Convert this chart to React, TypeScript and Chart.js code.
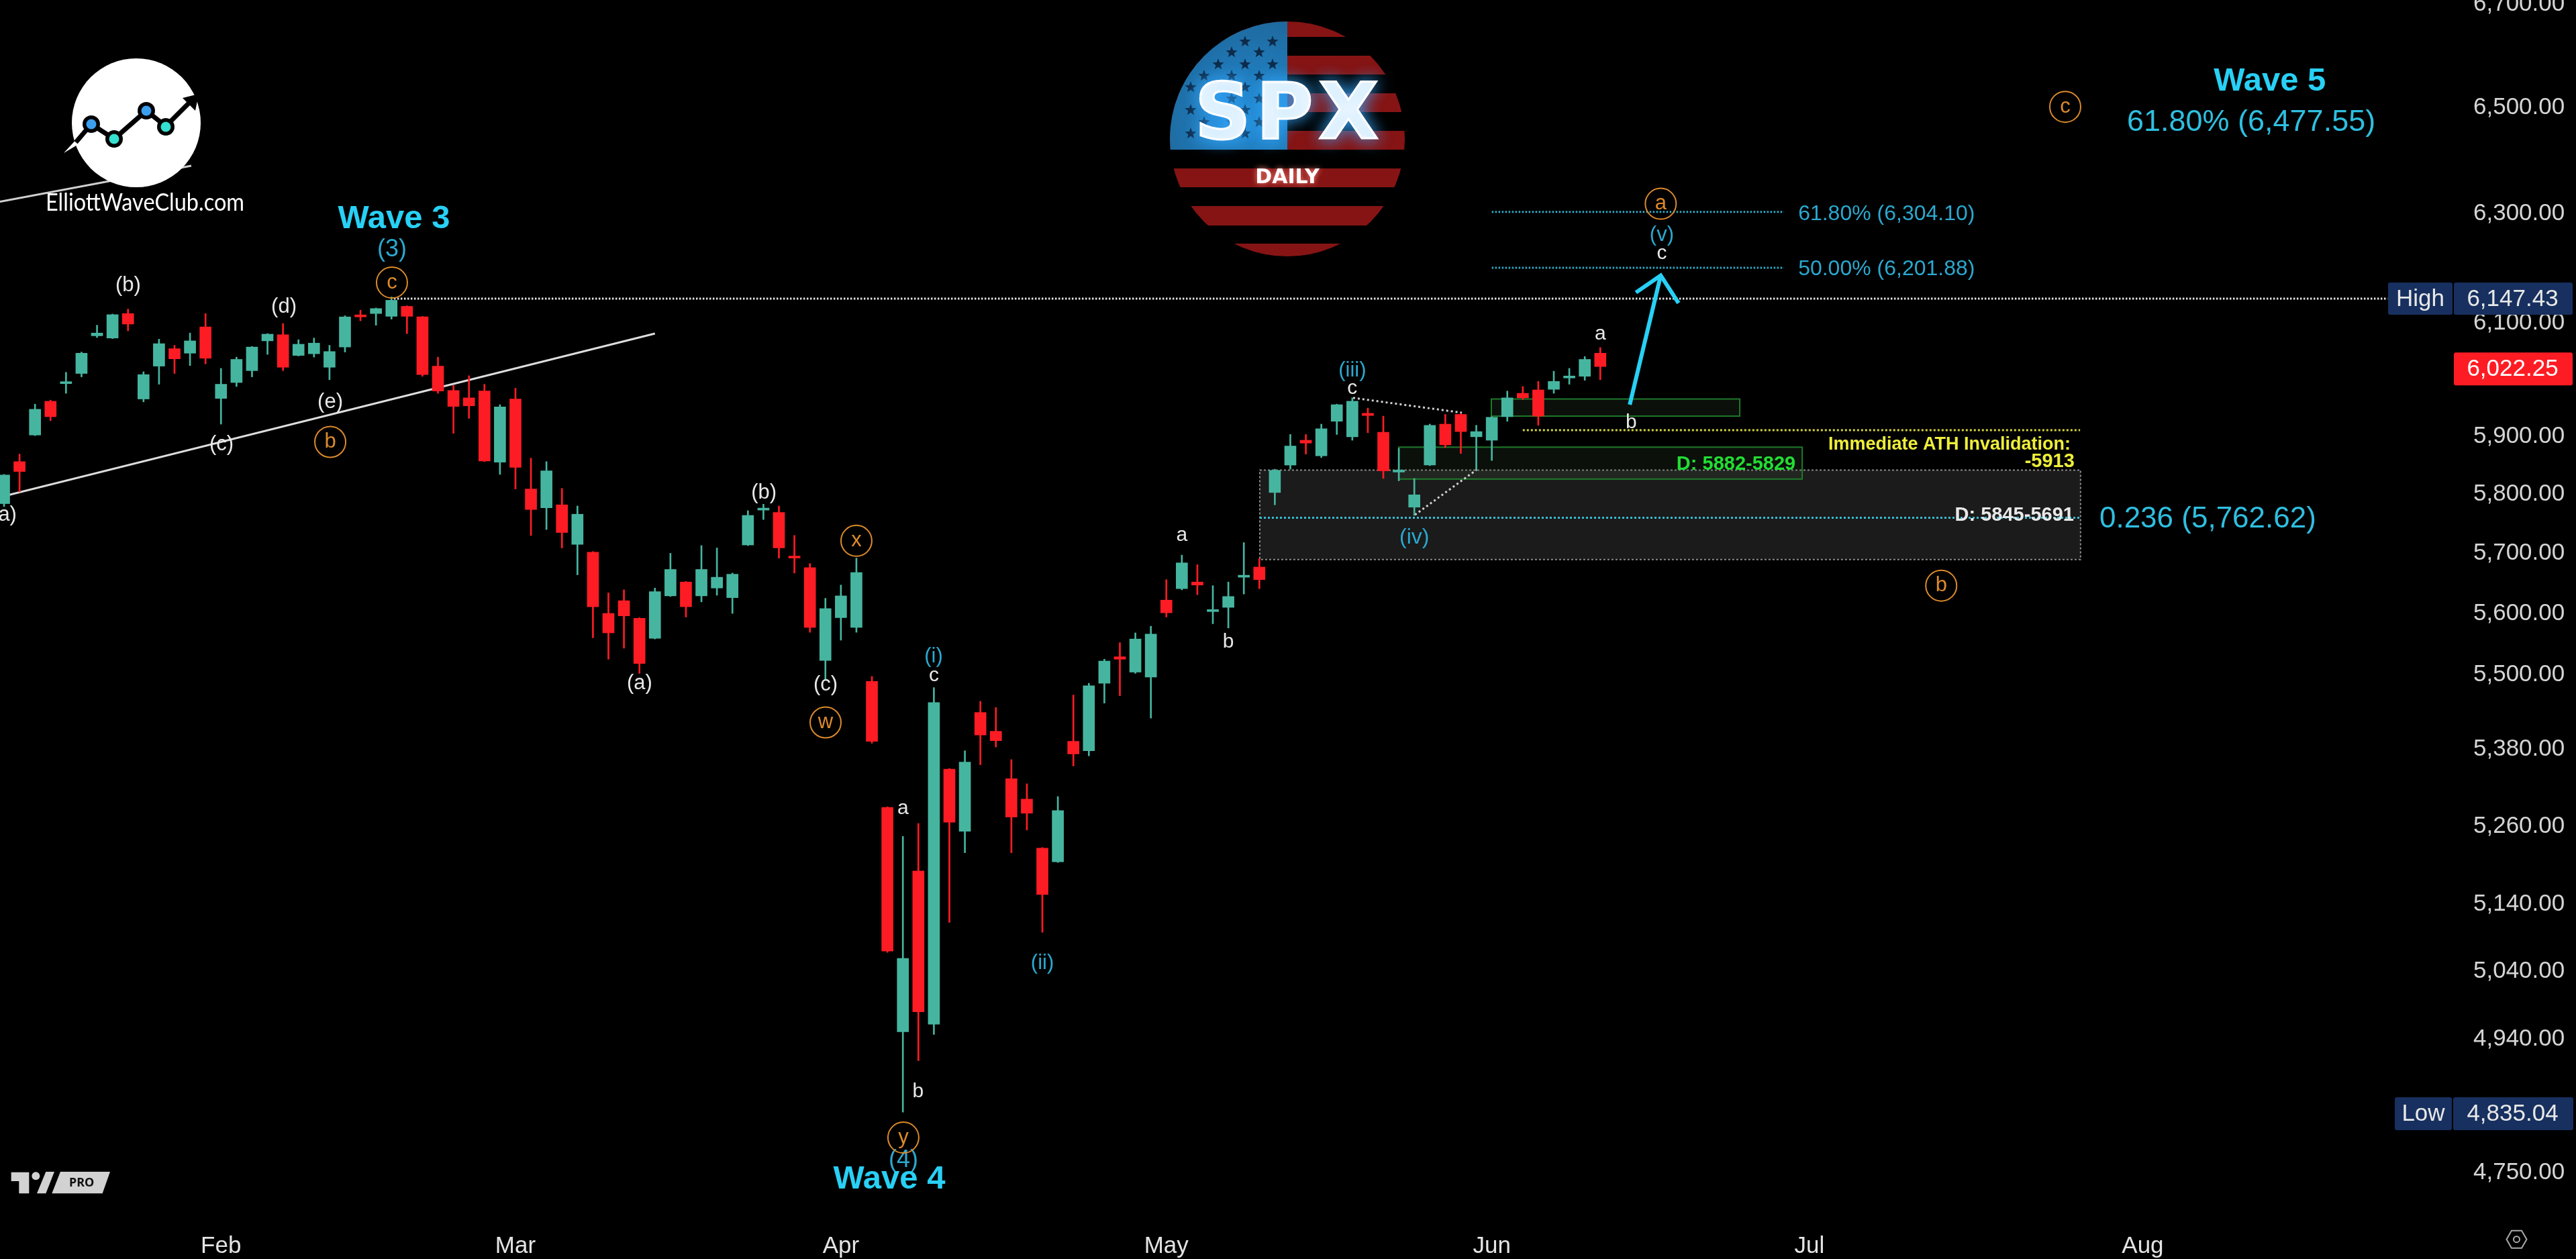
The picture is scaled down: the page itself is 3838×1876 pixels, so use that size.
import React, { useEffect, useRef } from "react";
import { Chart, registerables } from "chart.js";

Chart.register(...registerables);

const opens = [5784,5856,5902,5961,5992,6010,6077,6073,6117,5965,6023,6054,6046,6093,5966,5994,6015,6068,6079,6042,6045,6021,6057,6112,6117,6112,6130,6111,6023,5980,5967,5979,5855,5965,5809,5777,5782,5715,5702,5600,5621,5592,5559,5629,5652,5629,5642,5626,5714,5773,5769,5693,5676,5523,5593,5577,5489,5289,4951,5191,4962,5349,5252,5439,5409,5334,5302,5226,5205,5393,5378,5486,5529,5504,5496,5622,5641,5652,5603,5610,5660,5677,5803,5850,5893,5866,5926,5899,5940,5907,5838,5778,5850,5921,5938,5899,5893,5934,5975,5981,5982,6002,6005,6046];
const closes = [5833,5839,5947,5934,5995,6046,6082,6115,6098,6008,6063,6036,6068,6037,5991,6035,6057,6080,6021,6062,6064,6049,6111,6111,6126,6141,6112,6008,5979,5952,5953,5857,5951,5846,5774,5840,5735,5766,5611,5568,5596,5518,5636,5673,5611,5673,5660,5665,5764,5775,5709,5692,5577,5608,5629,5668,5393,5070,5059,4980,5455,5266,5360,5403,5394,5274,5280,5155,5284,5373,5482,5522,5525,5558,5566,5601,5684,5647,5604,5628,5661,5656,5841,5883,5888,5913,5955,5961,5936,5840,5840,5799,5919,5885,5908,5908,5933,5967,5967,5935,5996,6004,6035,6022.25];
const highs = [5834,5869,5956,5963,6012,6048,6096,6116,6125,6013,6071,6060,6082,6117,6019,6039,6058,6081,6099,6070,6073,6060,6113,6123,6127,6147,6131,6112,6039,5989,6006,5991,5955,5984,5862,5856,5810,5780,5703,5634,5639,5593,5642,5700,5653,5713,5709,5667,5772,5783,5780,5730,5683,5625,5647,5692,5497,5290,5244,5264,5479,5350,5378,5457,5447,5364,5326,5227,5306,5467,5486,5525,5552,5568,5579,5656,5697,5681,5646,5652,5718,5691,5843,5903,5903,5921,5956,5967,5949,5935,5879,5827,5921,5938,5939,5919,5934,5979,5987,5996,6014,6019,6040,6056];
const lows = [5779,5804,5901,5927,5975,6004,6074,6072,6086,5960,5991,6010,6024,6027,5921,5987,6004,6044,6015,6041,6039,5999,6048,6104,6096,6107,6081,6005,5975,5905,5931,5856,5834,5809,5730,5740,5709,5664,5560,5525,5543,5502,5558,5628,5594,5619,5630,5600,5713,5757,5692,5667,5569,5491,5556,5569,5390,5068,4835,4909,4947,5113,5219,5356,5384,5219,5254,5098,5204,5354,5370,5454,5466,5502,5430,5594,5639,5631,5583,5576,5632,5641,5782,5843,5869,5863,5903,5893,5906,5827,5823,5764,5849,5880,5870,5842,5858,5926,5964,5919,5975,5991,5998,5999];

const monthNames = ["Feb", "Mar", "Apr", "May", "Jun", "Jul", "Aug"];
const monthBars = [14, 33, 54, 75, 96, 116.5, 138];
const priceTicks = [6700, 6500, 6300, 6100, 5900, 5800, 5700, 5600, 5500, 5380, 5260, 5140, 5040, 4940, 4750];

// Drawings in (bar index, price)
const lowerTrend = [{ x: -0.26, y: 5795 }, { x: 42, y: 6081 }];
const upperTrend = [{ x: -0.26, y: 6322 }, { x: 12.08, y: 6389 }];
const highLine = [{ x: 25.16, y: 6144 }, { x: 153.8, y: 6144 }];
const fib618Line = [{ x: 96, y: 6303 }, { x: 114.85, y: 6303 }];
const fib500Line = [{ x: 96, y: 6200 }, { x: 114.85, y: 6200 }];
const fib236Line = [{ x: 81.03, y: 5760 }, { x: 133.99, y: 5760 }];
const invalidationLine = [{ x: 98, y: 5910.5 }, { x: 133.96, y: 5910.5 }];
const dottedA = [{ x: 87.05, y: 5967 }, { x: 94.07, y: 5941 }];
const dottedB = [{ x: 91.04, y: 5765 }, { x: 95.02, y: 5842 }];
const arrowShaft = [{ x: 104.9, y: 5955 }, { x: 106.9, y: 6186 }];
const arrowHead = [{ x: 105.3, y: 6155 }, { x: 106.9, y: 6186 }, { x: 108.05, y: 6136 }];

const grayZone = { x0: 81.03, x1: 133.99, p0: 5841.5, p1: 5689.7 };
const greenZones = [
  { x0: 90, x1: 116.03, p0: 5881, p1: 5826 },
  { x0: 95.97, x1: 112, p0: 5965, p1: 5935 },
];

const whiteLabels: [string, number, number][] = [
  ["(b)", 8.01, 6168], ["(d)", 18.06, 6129], ["(c)", 14.03, 5885], ["(e)", 21.05, 5959], ["(a)", 0, 5765],
  ["(b)", 49.03, 5802], ["(a)", 41.01, 5486], ["(c)", 53.01, 5484], ["c", 60, 5498], ["a", 58, 5287.5],
  ["b", 58.98, 4864.5], ["a", 76, 5730], ["b", 79, 5553], ["c", 87, 5984], ["a", 103, 6080], ["b", 105, 5924], ["c", 106.97, 6226],
];
const blueLabels: [string, number, number, number][] = [
  ["(3)", 25.03, 6233, 36], ["(i)", 59.98, 5529, 31], ["(4)", 58.03, 4767, 36], ["(ii)", 67, 5052, 31],
  ["(iii)", 87, 6015, 31], ["(iv)", 91, 5726, 32], ["(v)", 106.97, 6260, 31],
];
const circleLabels: [string, number, number][] = [
  ["c", 25.03, 6173], ["b", 21.05, 5890], ["x", 55, 5721], ["w", 53.01, 5423], ["y", 58.03, 4799],
  ["a", 106.9, 6318], ["b", 125, 5646], ["c", 133, 6501],
];
const waveTitles: [string, number, number][] = [
  ["Wave 3", 25.16, 6289], ["Wave 4", 57.12, 4740], ["Wave 5", 146.2, 6550],
];

const GREEN = "#46b5a0";
const RED = "#fe1c24";
const CYAN = "#28d0f5";
const TEAL = "#2ba8cf";
const ORANGE = "#dc8a2c";
const SANS = "'Liberation Sans', Arial, sans-serif";

const flagStars: [number, number[]][] = [
  [62, [1855, 1896]],
  [78, [1835, 1876]],
  [96, [1815, 1855, 1896]],
  [113, [1794, 1835, 1876]],
  [130, [1774, 1815, 1855, 1896]],
  [147, [1794, 1835, 1876]],
  [164, [1774, 1815, 1855, 1896]],
  [182, [1794, 1835, 1876]],
  [199, [1774, 1815, 1855, 1896]],
];

function star(ctx: CanvasRenderingContext2D, cx: number, cy: number, r: number) {
  ctx.beginPath();
  for (let i = 0; i < 10; i++) {
    const rr = i % 2 ? r * 0.42 : r;
    const a = -Math.PI / 2 + (i * Math.PI) / 5;
    const px = cx + rr * Math.cos(a);
    const py = cy + rr * Math.sin(a);
    if (i) ctx.lineTo(px, py);
    else ctx.moveTo(px, py);
  }
  ctx.closePath();
  ctx.fill();
}

function drawSpxLogo(ctx: CanvasRenderingContext2D) {
  const cx = 1918, cy = 207, r = 175;
  ctx.save();
  ctx.beginPath();
  ctx.arc(cx, cy, r, 0, Math.PI * 2);
  ctx.clip();
  const bands = [[32, 55], [83, 111], [139, 167], [195, 223], [251, 279], [307, 336], [363, 382]];
  ctx.fillStyle = "#861414";
  bands.forEach(([a, b]) => ctx.fillRect(cx - r, a, 2 * r, b - a));
  const grad = ctx.createRadialGradient(1870, 175, 20, 1870, 175, 190);
  grad.addColorStop(0, "#2386cc");
  grad.addColorStop(1, "#1c5f8e");
  ctx.fillStyle = grad;
  ctx.fillRect(cx - r, cy - r, r, 223 - (cy - r));
  ctx.fillStyle = "#0e2b4a";
  flagStars.forEach(([yy, xs]) => xs.forEach((xx) => star(ctx, xx, yy, 9)));
  ctx.restore();

  ctx.save();
  ctx.textAlign = "center";
  ctx.textBaseline = "middle";
  ctx.font = `bold 116px 'DejaVu Sans', sans-serif`;
  (ctx as any).letterSpacing = "8px";
  ctx.shadowColor = "#35a8ff";
  ctx.shadowBlur = 24;
  ctx.fillStyle = "#ffffff";
  ctx.strokeStyle = "#ffffff";
  ctx.lineWidth = 3;
  ctx.fillText("SPX", 1921, 176);
  ctx.strokeText("SPX", 1921, 176);
  (ctx as any).letterSpacing = "0px";
  ctx.font = `bold 30px 'DejaVu Sans', sans-serif`;
  ctx.shadowColor = "#ff8a80";
  ctx.shadowBlur = 8;
  ctx.fillText("DAILY", 1918, 265);
  ctx.restore();
}

function drawClubLogo(ctx: CanvasRenderingContext2D) {
  ctx.save();
  ctx.fillStyle = "#fff";
  ctx.beginPath();
  ctx.arc(203, 183, 96, 0, Math.PI * 2);
  ctx.fill();
  ctx.fillStyle = "#fff";
  ctx.beginPath();
  ctx.moveTo(95, 228);
  ctx.lineTo(118, 203);
  ctx.lineTo(125, 210);
  ctx.closePath();
  ctx.fill();
  ctx.strokeStyle = "#000";
  ctx.lineWidth = 7;
  ctx.lineJoin = "round";
  ctx.beginPath();
  ctx.moveTo(113, 212);
  ctx.lineTo(136, 185);
  ctx.lineTo(170, 207);
  ctx.lineTo(218, 165);
  ctx.lineTo(247, 188);
  ctx.lineTo(285, 150);
  ctx.stroke();
  ctx.fillStyle = "#000";
  ctx.beginPath();
  ctx.moveTo(296, 140);
  ctx.lineTo(272, 146);
  ctx.lineTo(291, 165);
  ctx.closePath();
  ctx.fill();
  const nodes: [number, number, string][] = [
    [136, 185, "#3b9ff0"], [170, 207, "#35e0d0"], [218, 165, "#3b9ff0"], [247, 189, "#35e0d0"],
  ];
  nodes.forEach(([x, y, c]) => {
    ctx.fillStyle = "#000";
    ctx.beginPath();
    ctx.arc(x, y, 13, 0, Math.PI * 2);
    ctx.fill();
    ctx.fillStyle = c;
    ctx.beginPath();
    ctx.arc(x, y, 7.5, 0, Math.PI * 2);
    ctx.fill();
  });
  ctx.fillStyle = "#fff";
  ctx.font = `400 36px Lato, sans-serif`;
  ctx.textAlign = "left";
  ctx.textBaseline = "middle";
  ctx.fillText("ElliottWaveClub.com", 68, 302, 296);
  ctx.restore();
}

function drawTvLogo(ctx: CanvasRenderingContext2D) {
  const poly = (pts: number[][]) => {
    ctx.beginPath();
    pts.forEach(([x, y], i) => (i ? ctx.lineTo(x / 3, 1700 + y / 3) : ctx.moveTo(x / 3, 1700 + y / 3)));
    ctx.closePath();
    ctx.fill();
  };
  ctx.save();
  ctx.fillStyle = "#d2d2d2";
  poly([[50, 140], [130, 140], [130, 235], [85, 235], [85, 180], [50, 180]]);
  poly([[205, 138], [243, 138], [205, 235], [165, 235]]);
  poly([[270, 138], [492, 138], [458, 235], [232, 235]]);
  ctx.beginPath();
  ctx.arc(160 / 3, 1700 + 157 / 3, 6, 0, Math.PI * 2);
  ctx.fill();
  ctx.fillStyle = "#111";
  ctx.font = `bold 18px 'Noto Sans', sans-serif`;
  ctx.textAlign = "center";
  ctx.textBaseline = "middle";
  ctx.fillText("PRO", 365 / 3, 1700 + 188 / 3);
  ctx.restore();
}

function drawGear(ctx: CanvasRenderingContext2D) {
  const cx = 3749.5, cy = 1846.7, r = 15;
  ctx.save();
  ctx.strokeStyle = "#aaaaaa";
  ctx.lineWidth = 2;
  ctx.beginPath();
  for (let i = 0; i < 6; i++) {
    const a = (i * Math.PI) / 3;
    const x = cx + r * Math.cos(a);
    const y = cy + r * Math.sin(a);
    if (i) ctx.lineTo(x, y);
    else ctx.moveTo(x, y);
  }
  ctx.closePath();
  ctx.stroke();
  ctx.beginPath();
  ctx.arc(cx, cy, 4.5, 0, Math.PI * 2);
  ctx.stroke();
  ctx.restore();
}

const backdrop = {
  id: "backdrop",
  beforeDraw(chart: any) {
    const { ctx, width, height } = chart;
    ctx.save();
    ctx.fillStyle = "#000";
    ctx.fillRect(0, 0, width, height);
    ctx.restore();
  },
  beforeDatasetsDraw(chart: any) {
    const { ctx, scales } = chart;
    const X = (v: number) => scales.x.getPixelForValue(v);
    const Y = (v: number) => scales.y.getPixelForValue(v);
    ctx.save();
    ctx.fillStyle = "#1b1b1b";
    const gx0 = X(grayZone.x0), gx1 = X(grayZone.x1), gy0 = Y(grayZone.p0), gy1 = Y(grayZone.p1);
    ctx.fillRect(gx0, gy0, gx1 - gx0, gy1 - gy0);
    ctx.strokeStyle = "#8c8c8c";
    ctx.lineWidth = 2;
    ctx.setLineDash([3, 3]);
    ctx.strokeRect(gx0, gy0, gx1 - gx0, gy1 - gy0);
    ctx.setLineDash([]);
    greenZones.forEach((z) => {
      const x0 = X(z.x0), x1 = X(z.x1), y0 = Y(z.p0), y1 = Y(z.p1);
      ctx.fillStyle = "rgba(60,90,60,0.18)";
      ctx.fillRect(x0, y0, x1 - x0, y1 - y0);
      ctx.strokeStyle = "#1f7a2a";
      ctx.lineWidth = 2;
      ctx.strokeRect(x0, y0, x1 - x0, y1 - y0);
    });
    ctx.restore();
  },
  afterDatasetsDraw(chart: any) {
    const { ctx, scales } = chart;
    const X = (v: number) => scales.x.getPixelForValue(v);
    const Y = (v: number) => scales.y.getPixelForValue(v);
    ctx.save();
    ctx.textBaseline = "middle";
    ctx.textAlign = "center";

    ctx.fillStyle = "#e8e8e8";
    whiteLabels.forEach(([t, i, p]) => {
      ctx.font = `${t.length > 1 ? 31 : 30}px ${SANS}`;
      ctx.fillText(t, X(i), Y(p));
    });
    ctx.fillStyle = TEAL;
    blueLabels.forEach(([t, i, p, s]) => {
      ctx.font = `${s}px ${SANS}`;
      ctx.fillText(t, X(i), Y(p));
    });
    circleLabels.forEach(([t, i, p]) => {
      ctx.strokeStyle = ORANGE;
      ctx.lineWidth = 2;
      ctx.beginPath();
      ctx.arc(X(i), Y(p), 23, 0, Math.PI * 2);
      ctx.stroke();
      ctx.fillStyle = ORANGE;
      ctx.font = `31px ${SANS}`;
      ctx.fillText(t, X(i), Y(p));
    });
    ctx.fillStyle = CYAN;
    waveTitles.forEach(([t, i, p]) => {
      ctx.font = `bold 49px ${SANS}`;
      ctx.fillText(t, X(i), Y(p));
    });

    ctx.fillStyle = "#2fbfe0";
    ctx.font = `45px ${SANS}`;
    ctx.fillText("61.80% (6,477.55)", X(145), Y(6471));
    ctx.font = `44px ${SANS}`;
    ctx.fillText("0.236 (5,762.62)", X(142.2), Y(5757.5));
    ctx.textAlign = "left";
    ctx.fillStyle = TEAL;
    ctx.font = `32px ${SANS}`;
    ctx.fillText("61.80% (6,304.10)", X(115.77), Y(6298));
    ctx.fillText("50.00% (6,201.88)", X(115.77), Y(6197));

    ctx.textAlign = "right";
    ctx.font = `bold 29px ${SANS}`;
    ctx.fillStyle = "#e8e8e8";
    ctx.fillText("D: 5845-5691", X(133.56), Y(5764));
    ctx.fillStyle = "#22dd33";
    ctx.fillText("D: 5882-5829", X(115.6), Y(5851));
    ctx.fillStyle = "#eeee3a";
    ctx.font = `bold 27px ${SANS}`;
    ctx.fillText("Immediate ATH Invalidation:", X(133.35), Y(5885));
    ctx.font = `bold 29px ${SANS}`;
    ctx.fillText("-5913", X(133.6), Y(5856));

    // price badges
    const badge = (x: number, w: number, cy: number, h: number, bg: string, text: string, fg: string) => {
      ctx.fillStyle = bg;
      ctx.beginPath();
      ctx.roundRect(x, cy - h / 2, w, h, 3);
      ctx.fill();
      ctx.fillStyle = fg;
      ctx.textAlign = "center";
      ctx.font = `35px ${SANS}`;
      ctx.fillText(text, x + w / 2 - (w > 150 ? 1 : 0), cy + 1);
    };
    badge(3558, 96, Y(6144), 48, "#17305f", "High", "#e8e8e8");
    badge(3656, 177, Y(6144), 48, "#17305f", "6,147.43", "#e8e8e8");
    badge(3656, 177, Y(6018), 49, RED, "6,022.25", "#ffffff");
    badge(3568, 85, Y(4833), 49, "#17305f", "Low", "#e8e8e8");
    badge(3655, 179, Y(4833), 49, "#17305f", "4,835.04", "#e8e8e8");
    ctx.restore();

    drawSpxLogo(ctx);
    drawClubLogo(ctx);
    drawTvLogo(ctx);
    drawGear(ctx);
  },
};

const lineSet = (data: { x: number; y: number }[], color: string, width: number, dash: number[], order = 5) => ({
  type: "line" as const,
  data,
  borderColor: color,
  borderWidth: width,
  borderDash: dash,
  pointRadius: 0,
  tension: 0,
  order,
  parsing: false as const,
});

export default function App() {
  const ref = useRef<HTMLCanvasElement>(null);
  useEffect(() => {
    document.body.style.margin = "0";
    document.body.style.background = "#000";
    const bars = opens.map((_, i) => i);
    const colors = opens.map((o, i) => (closes[i] >= o ? GREEN : RED));
    const chart = new Chart(ref.current as HTMLCanvasElement, {
      type: "bar",
      data: {
        datasets: [
          {
            data: bars.map((i) => ({ x: i, y: [lows[i], highs[i]] })),
            backgroundColor: colors,
            barThickness: 2,
            grouped: false,
            order: 3,
          } as any,
          {
            data: bars.map((i) => ({ x: i, y: [opens[i], closes[i]] })),
            backgroundColor: colors,
            barThickness: 17,
            minBarLength: 3,
            grouped: false,
            order: 2,
          } as any,
          lineSet(lowerTrend, "#dddddd", 3, []),
          lineSet(upperTrend, "#cfcfcf", 3, []),
          lineSet(highLine, "#e6e6e6", 3, [2.5, 2.5]),
          lineSet(fib618Line, "#2fa9c6", 3, [2.5, 2.5]),
          lineSet(fib500Line, "#2fa9c6", 3, [2.5, 2.5]),
          lineSet(fib236Line, "#38bcd4", 3, [3, 3]),
          lineSet(invalidationLine, "#d2d240", 3, [3, 3]),
          lineSet(dottedA, "#d0d0d0", 3, [3, 4]),
          lineSet(dottedB, "#d0d0d0", 3, [3, 4]),
          lineSet(arrowShaft, CYAN, 6, [], 1),
          lineSet(arrowHead, CYAN, 6, [], 1),
        ] as any,
      },
      options: {
        animation: false,
        responsive: false,
        devicePixelRatio: 1,
        layout: { padding: 0 },
        plugins: { legend: { display: false }, tooltip: { enabled: false }, title: { display: false } },
        scales: {
          x: {
            type: "linear",
            offset: false,
            min: -0.26,
            max: 158.25,
            grid: { display: false },
            border: { display: false },
            afterBuildTicks: (s: any) => {
              s.ticks = monthBars.map((v) => ({ value: v }));
            },
            afterFit: (s: any) => {
              s.height = 56;
              s.paddingLeft = 0;
              s.paddingRight = 0;
            },
            ticks: {
              autoSkip: false,
              maxRotation: 0,
              minRotation: 0,
              padding: 8,
              color: "#e4e4e4",
              font: { family: SANS, size: 35 },
              callback: (v: any) => monthNames[monthBars.indexOf(Number(v))] ?? "",
            },
          },
          y: {
            type: "logarithmic",
            position: "right",
            min: 4682,
            max: 6708.7,
            grid: { display: false },
            border: { display: false },
            afterBuildTicks: (s: any) => {
              s.ticks = priceTicks.map((v) => ({ value: v }));
            },
            afterFit: (s: any) => {
              s.width = 178;
              s.paddingTop = 0;
              s.paddingBottom = 0;
            },
            ticks: {
              autoSkip: false,
              padding: 17,
              color: "#d4d4d4",
              font: { family: SANS, size: 35 },
              callback: (v: any) =>
                Number(v).toLocaleString("en-US", { minimumFractionDigits: 2, maximumFractionDigits: 2 }),
            },
          },
        },
      } as any,
      plugins: [backdrop],
    });
    return () => chart.destroy();
  }, []);
  return (
    <div style={{ position: "absolute", left: 0, top: 0, width: 3838, height: 1876, overflow: "hidden", background: "#000" }}>
      <canvas ref={ref} width={3838} height={1876} style={{ display: "block" }} />
    </div>
  );
}
